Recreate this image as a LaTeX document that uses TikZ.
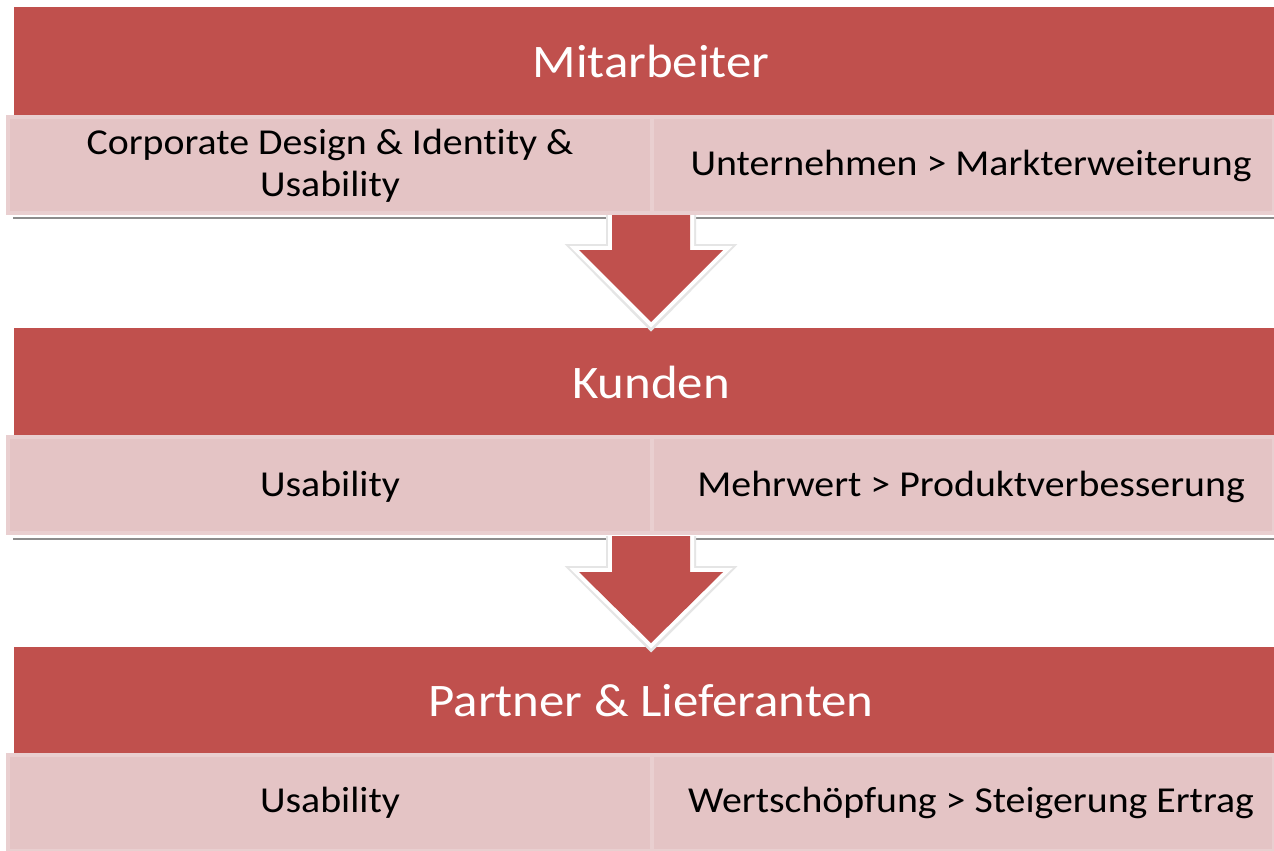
\documentclass[tikz,border=0pt]{standalone}
\usepackage{fontspec}
\setmainfont[FakeStretch=1.09,Ligatures={NoCommon,NoRare}]{Carlito}
\definecolor{hdrred}{RGB}{192,80,77}
\definecolor{subfill}{RGB}{228,196,197}
\definecolor{subedge}{RGB}{233,207,208}
\begin{document}
\begin{tikzpicture}[x=0.75pt,y=-0.75pt,
  header/.style={fill=hdrred,draw=none,minimum width=945pt,minimum height=81pt,inner sep=0pt},
  headtext/.style={text=white,font=\fontsize{35}{40}\selectfont,inner sep=0pt},
  subbox/.style={fill=subfill,draw=subedge,line width=3pt,minimum height=72pt,inner sep=0pt},
  subtext/.style={text=black,font=\fontsize{27.4}{31.5}\selectfont,align=center,inner sep=0pt},
  shadowline/.style={draw=gray!90,line width=1.5pt},
  arrowrim/.style={draw=white,line width=6pt,line join=miter,miter limit=10},
  arrowshade/.style={draw=black!10,line width=9pt,line join=miter,miter limit=10}]
\useasboundingbox (0,0) rectangle (1274,850);
\fill[white] (0,0) rectangle (1274,850);

% ---------- level 1
\node[header] (h1) at (644,61) {};
\node[headtext] (ht1) at (651,61) {Mitarbeiter};
\node[subbox,minimum width=483pt] (s1l) at (330,165) {};
\node[subbox,minimum width=466.5pt] (s1r) at (963,165) {};
\node[subtext] (t1l) at (330,166) {Corporate Design \& Identity \&\\Usability};
\node[subtext] (t1r) at (971,166) {Unternehmen > Markterweiterung};
\draw[shadowline] (13,218) -- (1274,218);

% ---------- level 2
\node[header] (h2) at (644,382) {};
\node[headtext] (ht2) at (651,382) {Kunden};
\node[subbox,minimum width=483pt] (s2l) at (330,485) {};
\node[subbox,minimum width=466.5pt] (s2r) at (963,485) {};
\node[subtext] (t2l) at (330,487) {Usability};
\node[subtext] (t2r) at (971,487) {Mehrwert > Produktverbesserung};
\draw[shadowline] (13,539) -- (1274,539);

% ---------- level 3
\node[header] (h3) at (644,701) {};
\node[headtext] (ht3) at (651,701) {Partner \& Lieferanten};
\node[subbox,minimum width=483pt] (s3l) at (330,803) {};
\node[subbox,minimum width=466.5pt] (s3r) at (963,803) {};
\node[subtext] (t3l) at (330,803) {Usability};
\node[subtext] (t3r) at (971,803) {Wertschöpfung > Steigerung Ertrag};

% ---------- arrows
\foreach \top/\hy/\tip in {215/250/322, 536/572/643}{
  \draw[arrowshade] (612,\top) -- (612,\hy) -- (579,\hy) -- (651,\tip+1) -- (723,\hy) -- (690,\hy) -- (690,\top);
  \draw[arrowrim] (612,\top) -- (612,\hy) -- (579,\hy) -- (651,\tip) -- (723,\hy) -- (690,\hy) -- (690,\top);
  \fill[hdrred] (612,\top) -- (612,\hy) -- (579,\hy) -- (651,\tip) -- (723,\hy) -- (690,\hy) -- (690,\top) -- cycle;
}
\end{tikzpicture}
\end{document}
